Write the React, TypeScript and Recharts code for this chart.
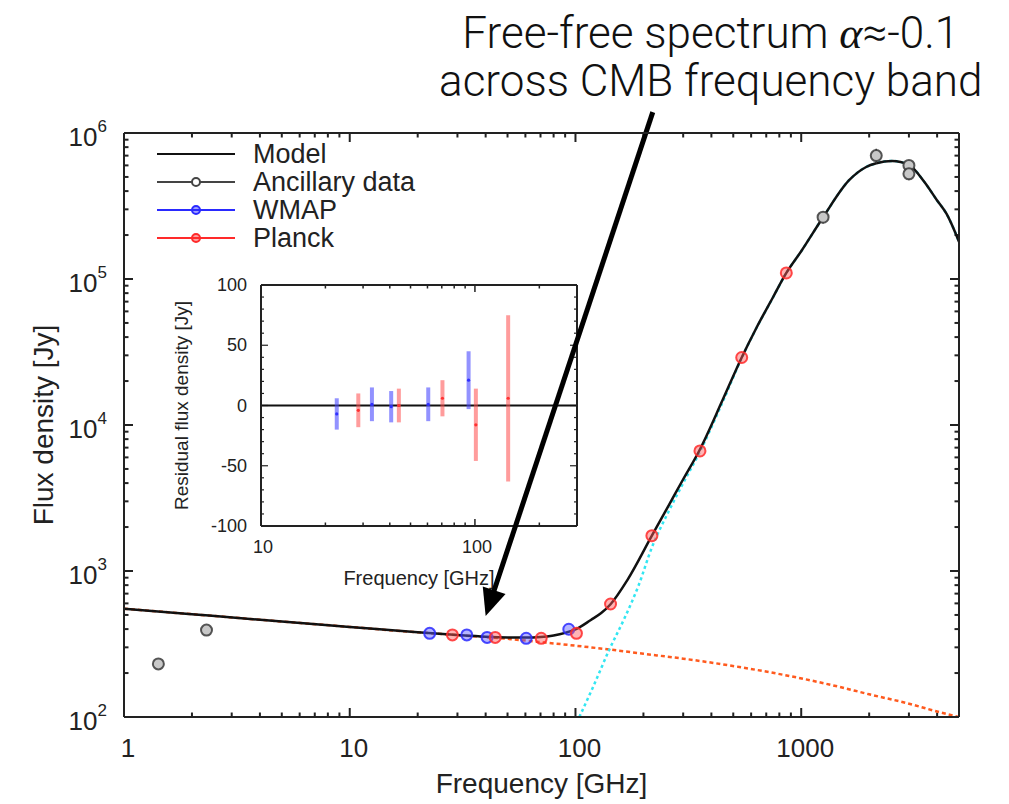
import React from "react";
import {
  ComposedChart,
  Line,
  Scatter,
  XAxis,
  YAxis,
  ErrorBar,
  ReferenceLine,
  Legend,
} from "recharts";

const FONT = "'Liberation Sans', Arial, Helvetica, sans-serif";
const LIGHT_FONT = "Roboto, 'Open Sans', 'Liberation Sans', sans-serif";

// ---------------- main spectrum ----------------
const MODEL_FREQ = [1, 2, 5, 10, 20, 30, 40, 50, 60, 70, 80, 90, 100, 117, 130, 143, 170, 218, 260, 300, 353, 450, 545, 632, 750, 859, 1000, 1250, 1630, 1940, 2150, 2530, 3000, 3500, 4000, 4400, 5000];
const MODEL_FLUX = [552, 506, 451, 414, 380, 364, 355, 351, 350, 353, 362, 377, 398, 462, 515, 592, 870, 1745, 2850, 4250, 6640, 15000, 29000, 46000, 75000, 110000, 155000, 265000, 475000, 585000, 620000, 643000, 605000, 465000, 345000, 280000, 180000];

const FREEFREE_FREQ = [1, 2, 5, 10, 20, 30, 40, 50, 67, 100, 141, 200, 300, 532, 885, 1472, 2000, 2905, 4000, 5000];
const FREEFREE_FLUX = [552, 506, 451, 414, 380, 364, 352, 343, 328, 308, 290, 271, 251, 220, 191, 161, 143, 125, 109, 100];

const DUST_FREQ = [104, 120, 141, 165, 190, 218, 260, 300, 353, 450, 545, 632, 750, 859, 1000, 1250, 1630, 1940, 2150, 2530, 3000, 3500, 4000, 4400, 5000];
const DUST_FLUX = [100, 162, 288, 476, 790, 1450, 2600, 4000, 6400, 14500, 28800, 45800, 74800, 110000, 155000, 265000, 475000, 585000, 620000, 643000, 605000, 465000, 345000, 280000, 180000];

const ANC_FREQ = [1.42, 2.32, 1250, 2150, 3000, 3000];
const ANC_FLUX = [231, 394, 265000, 700000, 600000, 525000];
const ANC_ERR = [12, 18, 25000, 80000, 50000, 50000];

const WMAP_FREQ = [22.6, 33, 40.6, 60.5, 93.4];
const WMAP_FLUX = [374, 365, 351, 346, 399];

const PLANCK_FREQ = [28.5, 44.1, 70.5, 101, 143, 218, 356, 545, 859];
const PLANCK_FLUX = [365, 351, 346, 374, 594, 1745, 6640, 29000, 110000];

// ---------------- residual inset ----------------
const RES_WMAP_FREQ = [22.6, 33, 40.6, 60.5, 93.4];
const RES_WMAP = [-7, 1, -1, 1, 21];
const RES_WMAP_ERR = [13, 14, 13, 14, 24];

const RES_PLANCK_FREQ = [28.5, 44.1, 70.5, 101, 143];
const RES_PLANCK = [-4, 0, 6, -16, 6];
const RES_PLANCK_ERR = [14, 14, 15, 30, 69];

// ---------------- ticks & labels ----------------
const MAIN_X_MAJOR = [1, 10, 100, 1000];
const MAIN_X_TICKS = MAIN_X_MAJOR.flatMap((d) => [1, 2, 3, 4, 5, 6, 7, 8, 9].map((k) => k * d)).filter((v) => v <= 5000);
const MAIN_Y_MAJOR = [100, 1000, 10000, 100000, 1000000];
const MAIN_Y_EXP = ["2", "3", "4", "5", "6"];
const MAIN_Y_TICKS = [100, 1000, 10000, 100000]
  .flatMap((d) => [1, 2, 3, 4, 5, 6, 7, 8, 9].map((k) => k * d))
  .concat([1000000]);

const INSET_X_MAJOR = [10, 100];
const INSET_X_TICKS = [10, 20, 30, 40, 50, 60, 70, 80, 90, 100, 200, 300];
const INSET_Y_MAJOR = [-100, -50, 0, 50, 100];
const INSET_Y_TICKS = [-100, -90, -80, -70, -60, -50, -40, -30, -20, -10, 0, 10, 20, 30, 40, 50, 60, 70, 80, 90, 100];

const LEGEND_ITEMS = [
  { name: "Model", color: "#111", marker: false },
  { name: "Ancillary data", color: "#444", marker: true },
  { name: "WMAP", color: "#2a2aff", marker: true },
  { name: "Planck", color: "#ff2a2a", marker: true },
];

const pairs = (xs: number[], ys: number[], es?: number[]) =>
  xs.map((x, i) => (es ? { x, y: ys[i], e: es[i] } : { x, y: ys[i] }));

const modelData = pairs(MODEL_FREQ, MODEL_FLUX);
const ffData = pairs(FREEFREE_FREQ, FREEFREE_FLUX);
const dustData = pairs(DUST_FREQ, DUST_FLUX);
const ancData = pairs(ANC_FREQ, ANC_FLUX, ANC_ERR);
const wmapData = pairs(WMAP_FREQ, WMAP_FLUX);
const planckData = pairs(PLANCK_FREQ, PLANCK_FLUX);
const resWmapData = pairs(RES_WMAP_FREQ, RES_WMAP, RES_WMAP_ERR);
const resPlanckData = pairs(RES_PLANCK_FREQ, RES_PLANCK, RES_PLANCK_ERR);

const TXT = "#222";
const FRAME = "#222";

// ---------------- tick label renderers (labels only) ----------------
const MainXLabel = (p: any) => {
  const v = p.payload.value;
  if (!MAIN_X_MAJOR.includes(v)) return <g />;
  return (
    <text x={p.x + 4} y={p.y + 40} textAnchor="middle" fontSize={26} fontFamily={FONT} fill={TXT}>
      {String(v)}
    </text>
  );
};
const MainYLabel = (p: any) => {
  const idx = MAIN_Y_MAJOR.indexOf(p.payload.value);
  if (idx < 0) return <g />;
  return (
    <text x={p.x - 17} y={p.y + 13} textAnchor="end" fontSize={26} fontFamily={FONT} fill={TXT}>
      10
      <tspan dy={-14} fontSize={17}>
        {MAIN_Y_EXP[idx]}
      </tspan>
    </text>
  );
};
const InsetXLabel = (p: any) => {
  const v = p.payload.value;
  if (!INSET_X_MAJOR.includes(v)) return <g />;
  return (
    <text x={p.x + 2} y={p.y + 27} textAnchor="middle" fontSize={18} fontFamily={FONT} fill={TXT}>
      {String(v)}
    </text>
  );
};
const InsetYLabel = (p: any) => {
  const v = p.payload.value;
  if (!INSET_Y_MAJOR.includes(v)) return <g />;
  return (
    <text x={p.x - 14} y={p.y + 6} textAnchor="end" fontSize={18} fontFamily={FONT} fill={TXT}>
      {String(v)}
    </text>
  );
};
const Empty = () => <g />;

// ---------------- inward tick marks (drawn through reference lines) ----------------
const vTicks = (len: number, w: number) => (p: any) => {
  const x = p.x1;
  const yb = Math.max(p.y1, p.y2);
  const yt = Math.min(p.y1, p.y2);
  return (
    <g>
      <line x1={x} x2={x} y1={yb} y2={yb - len} stroke={FRAME} strokeWidth={w} />
      <line x1={x} x2={x} y1={yt} y2={yt + len} stroke={FRAME} strokeWidth={w} />
    </g>
  );
};
const hTicks = (len: number, w: number) => (p: any) => {
  const y = p.y1;
  const xl = Math.min(p.x1, p.x2);
  const xr = Math.max(p.x1, p.x2);
  return (
    <g>
      <line x1={xl} x2={xl + len} y1={y} y2={y} stroke={FRAME} strokeWidth={w} />
      <line x1={xr} x2={xr - len} y1={y} y2={y} stroke={FRAME} strokeWidth={w} />
    </g>
  );
};

// ---------------- titles ----------------
const XTitle = (p: any) => {
  const vb = p.viewBox || { x: 0, y: 0, width: 0 };
  return (
    <text x={vb.x + vb.width / 2 + (p.dx0 || 0)} y={vb.y + p.dy0} textAnchor="middle" fontSize={p.size} fontFamily={FONT} fill={TXT}>
      {p.text}
    </text>
  );
};
const YTitle = (p: any) => {
  const vb = p.viewBox || { x: 0, y: 0, height: 0 };
  const cx = vb.x + p.dx0;
  const cy = vb.y + vb.height / 2;
  return (
    <text x={cx} y={cy} transform={`rotate(-90 ${cx} ${cy})`} textAnchor="middle" dominantBaseline="central" fontSize={p.size} fontFamily={FONT} fill={TXT}>
      {p.text}
    </text>
  );
};

// ---------------- markers ----------------
const ringShape = (color: string, fill: string) => (p: any) =>
  <circle cx={p.cx} cy={p.cy} r={5.5} stroke={color} strokeWidth={2} fill={fill} strokeOpacity={0.85} />;
const dotShape = (color: string) => (p: any) => <circle cx={p.cx} cy={p.cy} r={1.6} fill={color} />;

// ---------------- legend ----------------
const LegendBox = () => (
  <svg width={320} height={115}>
    {LEGEND_ITEMS.map((it, i) => {
      const y = 16 + i * 28;
      return (
        <g key={it.name}>
          <line x1={7} x2={85} y1={y} y2={y} stroke={it.color} strokeWidth={2} />
          {it.marker && <circle cx={46} cy={y} r={4} stroke={it.color} strokeWidth={2} fill={i === 1 ? "#fff" : it.color} fillOpacity={i === 1 ? 1 : 0.45} />}
          <text x={103} y={y + 9} fontSize={27} fontFamily={FONT} fill={TXT}>
            {it.name}
          </text>
        </g>
      );
    })}
  </svg>
);

// ---------------- arrow annotation ----------------
const ArrowShape = (p: any) => {
  const { x1, y1, x2, y2 } = p;
  const dx = x2 - x1;
  const dy = y2 - y1;
  const len = Math.hypot(dx, dy) || 1;
  const ux = dx / len;
  const uy = dy / len;
  const headLen = 27;
  const headW = 12;
  const bx = x2 - ux * headLen;
  const by = y2 - uy * headLen;
  const px = -uy;
  const py = ux;
  return (
    <g>
      <line x1={x1} y1={y1} x2={bx + ux * 2} y2={by + uy * 2} stroke="#000" strokeWidth={5} />
      <polygon points={`${x2},${y2} ${bx + px * headW},${by + py * headW} ${bx - px * headW},${by - py * headW}`} fill="#000" />
      <text x={x1 + 58} y={y1 - 64} textAnchor="middle" fontSize={44} fontWeight={300} fontFamily={LIGHT_FONT} fill="#111">
        Free-free spectrum{" "}
        <tspan fontStyle="italic" fontFamily="'Liberation Serif', 'DejaVu Serif', serif" fontWeight={400}>
          α
        </tspan>
        ≈-0.1
      </text>
      <text x={x1 + 58} y={y1 - 16} textAnchor="middle" fontSize={44} fontWeight={300} fontFamily={LIGHT_FONT} fill="#111">
        across CMB frequency band
      </text>
    </g>
  );
};

const axisLine = { stroke: FRAME, strokeWidth: 2 };

export default function App() {
  return (
    <div style={{ position: "absolute", left: 0, top: 0, width: 1009, height: 804, background: "#fff", overflow: "hidden" }}>
      {/* residual inset (drawn below the main chart layer) */}
      <div style={{ position: "absolute", left: 0, top: 0 }}>
        <ComposedChart width={1009} height={804} margin={{ top: 284, right: 431, bottom: 238, left: 201 }}>
          <XAxis xAxisId="b" dataKey="x" type="number" scale="log" domain={[10, 300]} allowDataOverflow ticks={INSET_X_TICKS} interval={0} tickSize={0} tickMargin={0} tickLine={false} tick={<InsetXLabel />} axisLine={axisLine} height={40} label={<XTitle text="Frequency [GHz]" dy0={59} size={20} />} />
          <XAxis xAxisId="t" orientation="top" dataKey="x" type="number" scale="log" domain={[10, 300]} allowDataOverflow ticks={INSET_X_TICKS} interval={0} tickSize={0} tickMargin={0} tickLine={false} tick={<Empty />} axisLine={axisLine} height={1} />
          <YAxis yAxisId="l" dataKey="y" type="number" domain={[-100, 100]} allowDataOverflow ticks={INSET_Y_TICKS} interval={0} tickSize={0} tickMargin={0} tickLine={false} tick={<InsetYLabel />} axisLine={axisLine} width={60} label={<YTitle text="Residual flux density [Jy]" dx0={-20} size={19} />} />
          <YAxis yAxisId="r" orientation="right" dataKey="y" type="number" domain={[-100, 100]} allowDataOverflow ticks={INSET_Y_TICKS} interval={0} tickSize={0} tickMargin={0} tickLine={false} tick={<Empty />} axisLine={axisLine} width={1} />
          {INSET_X_TICKS.map((v) => (
            <ReferenceLine key={`ix${v}`} xAxisId="b" yAxisId="l" x={v} ifOverflow="visible" shape={vTicks(INSET_X_MAJOR.includes(v) ? 7 : 3.5, 1.5)} />
          ))}
          {INSET_Y_TICKS.map((v) => (
            <ReferenceLine key={`iy${v}`} xAxisId="b" yAxisId="l" y={v} ifOverflow="visible" shape={hTicks(INSET_Y_MAJOR.includes(v) ? 7 : 3, 1.2)} />
          ))}
          <ReferenceLine xAxisId="b" yAxisId="l" y={0} stroke="#111" strokeWidth={2} />
          <Scatter xAxisId="b" yAxisId="l" data={resWmapData} shape={dotShape("#3030ff")} isAnimationActive={false}>
            <ErrorBar dataKey="e" direction="y" width={0} stroke="#4a4aff" strokeOpacity={0.6} strokeWidth={4} />
          </Scatter>
          <Scatter xAxisId="b" yAxisId="l" data={resPlanckData} shape={dotShape("#ff3030")} isAnimationActive={false}>
            <ErrorBar dataKey="e" direction="y" width={0} stroke="#ff4a4a" strokeOpacity={0.55} strokeWidth={4} />
          </Scatter>
        </ComposedChart>
      </div>

      {/* main spectrum */}
      <div style={{ position: "absolute", left: 0, top: 0 }}>
        <ComposedChart width={1009} height={804} margin={{ top: 132, right: 49, bottom: 27, left: 24 }}>
          <XAxis xAxisId="b" dataKey="x" type="number" scale="log" domain={[1, 5000]} allowDataOverflow ticks={MAIN_X_TICKS} interval={0} tickSize={0} tickMargin={0} tickLine={false} tick={<MainXLabel />} axisLine={axisLine} height={60} label={<XTitle text="Frequency [GHz]" dy0={76} size={28} />} />
          <XAxis xAxisId="t" orientation="top" dataKey="x" type="number" scale="log" domain={[1, 5000]} allowDataOverflow ticks={MAIN_X_TICKS} interval={0} tickSize={0} tickMargin={0} tickLine={false} tick={<Empty />} axisLine={axisLine} height={1} />
          <YAxis yAxisId="l" dataKey="y" type="number" scale="log" domain={[100, 1000000]} allowDataOverflow ticks={MAIN_Y_TICKS} interval={0} tickSize={0} tickMargin={0} tickLine={false} tick={<MainYLabel />} axisLine={axisLine} width={100} label={<YTitle text="Flux density [Jy]" dx0={19} size={28} />} />
          <YAxis yAxisId="r" orientation="right" dataKey="y" type="number" scale="log" domain={[100, 1000000]} allowDataOverflow ticks={MAIN_Y_TICKS} interval={0} tickSize={0} tickMargin={0} tickLine={false} tick={<Empty />} axisLine={axisLine} width={1} />

          {MAIN_X_TICKS.map((v) => (
            <ReferenceLine key={`mx${v}`} xAxisId="b" yAxisId="l" x={v} ifOverflow="visible" shape={vTicks(MAIN_X_MAJOR.includes(v) ? 9 : 4.5, 2)} />
          ))}
          {MAIN_Y_TICKS.map((v) => (
            <ReferenceLine key={`my${v}`} xAxisId="b" yAxisId="l" y={v} ifOverflow="visible" shape={hTicks(MAIN_Y_MAJOR.includes(v) ? 9 : 4.5, 2)} />
          ))}

          <Line xAxisId="b" yAxisId="l" data={ffData} dataKey="y" type="monotone" stroke="#ff5a1e" strokeWidth={2.5} strokeDasharray="4 3" dot={false} isAnimationActive={false} />
          <Line xAxisId="b" yAxisId="l" data={dustData} dataKey="y" type="monotone" stroke="#33e6f2" strokeWidth={2.5} strokeDasharray="3 3" dot={false} isAnimationActive={false} />
          <Line xAxisId="b" yAxisId="l" data={modelData} dataKey="y" type="monotone" stroke="#111" strokeWidth={2.5} dot={false} isAnimationActive={false} />

          <Scatter xAxisId="b" yAxisId="l" data={ancData} shape={ringShape("#3a3a3a", "#c8c8c8")} isAnimationActive={false}>
            <ErrorBar dataKey="e" direction="y" width={0} stroke="#333" strokeWidth={1.5} />
          </Scatter>
          <Scatter xAxisId="b" yAxisId="l" data={wmapData} shape={ringShape("#2a2aff", "rgba(90,90,255,0.45)")} isAnimationActive={false} />
          <Scatter xAxisId="b" yAxisId="l" data={planckData} shape={ringShape("#ff2a2a", "rgba(255,90,90,0.45)")} isAnimationActive={false} />

          <ReferenceLine xAxisId="b" yAxisId="l" segment={[{ x: 220, y: 1390000 }, { x: 40, y: 492 }]} ifOverflow="visible" shape={ArrowShape} />

          <Legend layout="vertical" align="center" verticalAlign="middle" wrapperStyle={{ left: 150, top: 138, width: 320, height: 115 }} content={() => <LegendBox />} />
        </ComposedChart>
      </div>
    </div>
  );
}
